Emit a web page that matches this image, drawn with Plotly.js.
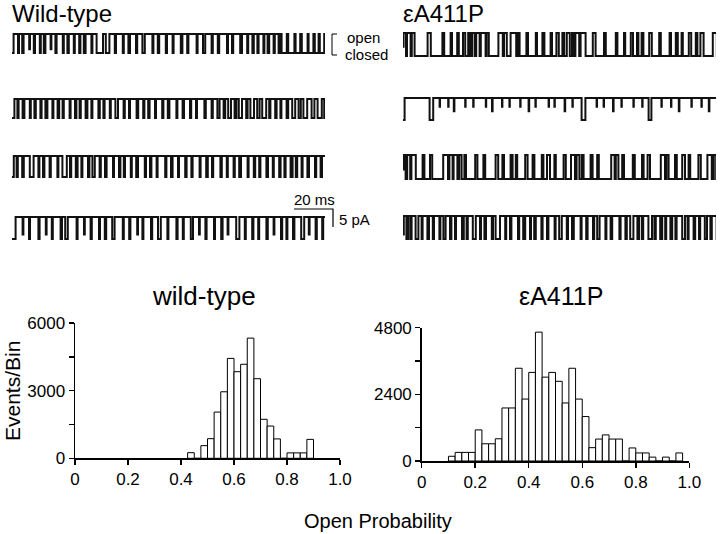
<!DOCTYPE html>
<html>
<head>
<meta charset="utf-8">
<script src="https://cdn.plot.ly/plotly-3.0.1.min.js"></script>
<style>
  html, body { margin: 0; padding: 0; background: #fff; }
  #chart { width: 720px; height: 534px; }
</style>
</head>
<body>
<div id="chart"></div>
<script>
// Single-channel records + open probability histograms

// Histogram bins (lower edge of each 0.025 bin) and counts
const wtBins = [0.425, 0.45, 0.475, 0.5, 0.525, 0.55, 0.575, 0.6, 0.625, 0.65,
                0.675, 0.7, 0.725, 0.75, 0.775, 0.8, 0.825, 0.85, 0.875];
const wtCounts = [250, 0, 560, 870, 2050, 2950, 4430, 3840, 4170, 5330,
                  3530, 1730, 1430, 860, 0, 240, 240, 240, 840];

const mutBins = [0.1, 0.125, 0.15, 0.175, 0.2, 0.225, 0.25, 0.275, 0.3, 0.325,
                 0.35, 0.375, 0.4, 0.425, 0.45, 0.475, 0.5, 0.525, 0.55, 0.575,
                 0.6, 0.625, 0.65, 0.675, 0.7, 0.725, 0.75, 0.775, 0.8, 0.825,
                 0.85, 0.875, 0.9, 0.925, 0.95];
const mutCounts = [170, 310, 310, 310, 1120, 620, 620, 800, 1910, 1910,
                   3340, 2230, 3190, 4640, 3020, 3190, 2870, 2090, 3340, 2230,
                   1600, 480, 790, 940, 790, 790, 0, 470, 290, 290,
                   140, 0, 140, 0, 290];

const xTickVals = [0, 0.2, 0.4, 0.6, 0.8, 1.0];
const xTickText = ['0', '0.2', '0.4', '0.6', '0.8', '1.0'];
const wtYTicks = [0, 1500, 3000, 4500, 6000];
const wtYText = ['0', '', '3000', '', '6000'];
const mutYTicks = [0, 1200, 2400, 3600, 4800];
const mutYText = ['0', '', '2400', '', '4800'];

// Dwell times (ms), alternating closed / open, starting with closed
const wt1 = [0.8, 2.2, 0.5, 1.6, 0.7, 2.8, 0.4, 1.9, 0.6, 2.4, 0.5, 1.5, 0.8, 2.6, 0.4, 2.0,
             0.6, 3.1, 0.5, 1.8, 0.7, 2.5, 0.5, 2.2, 0.6, 1.7, 0.9, 2.9, 0.5, 2.1, 3.2, 1.4,
             1.8, 2.7, 0.6, 3.4, 0.5, 2.3, 0.8, 3.0, 0.6, 2.6, 1.2, 3.8, 0.5, 2.2, 0.7, 3.3,
             0.6, 2.8, 0.5, 3.6, 0.8, 2.4, 0.6, 4.1, 0.5, 2.7, 1.1, 3.2, 0.6, 2.5, 0.7, 3.9,
             0.5, 2.0, 0.6, 3.5, 0.9, 2.6, 0.5, 2.1, 0.7, 1.8, 0.6, 2.4, 0.5, 1.6, 0.8, 2.2,
             0.6, 1.9, 1.0, 0.5, 2.6, 0.7, 3.1, 0.6, 2.3, 0.8, 2.9, 0.5, 2.4, 0.7, 1.9, 0.6,
             2.2, 0.9, 3.0];
const wt2 = [1.2, 1.5, 0.6, 2.0, 0.9, 2.7, 0.5, 1.8, 0.7, 2.3, 0.6, 1.9, 1.0, 2.5, 0.5, 2.1,
             0.8, 1.7, 0.6, 2.9, 0.5, 2.2, 0.7, 1.6, 0.6, 2.4, 0.9, 2.0, 0.5, 3.0, 0.7, 1.8,
             0.6, 2.6, 0.5, 2.3, 1.3, 2.8, 0.6, 2.1, 0.5, 3.3, 0.8, 2.5, 0.6, 1.9, 0.7, 2.7,
             0.5, 3.1, 0.6, 2.2, 0.8, 3.5, 0.5, 2.6, 0.7, 3.0, 0.6, 2.4, 0.5, 3.7, 0.7, 2.9,
             0.6, 2.3, 1.1, 2.0, 0.8, 1.5, 1.4, 1.8, 0.9, 1.2, 1.6, 2.1, 0.7, 1.4, 1.8, 1.6,
             1.2, 1.3, 2.0, 1.5, 0.6, 2.4, 0.7, 1.9, 0.5, 2.6, 0.8, 2.0, 1.5, 1.7, 1.1, 1.3,
             1.9, 2.2, 1.4, 1.6, 2.1, 1.2, 1.6, 1.4];
const wt3 = [0.9, 1.4, 0.6, 2.2, 0.8, 3.0, 1.9, 2.4, 0.5, 1.8, 0.7, 2.6, 0.6, 3.3, 0.5, 2.0,
             2.2, 1.6, 0.6, 2.3, 0.9, 1.9, 0.5, 2.8, 0.7, 1.5, 1.2, 2.4, 0.6, 2.1, 0.8, 3.2,
             0.5, 2.5, 0.7, 1.7, 0.6, 2.9, 0.5, 2.2, 0.9, 3.4, 0.6, 2.0, 0.7, 2.6, 0.5, 3.8,
             0.6, 2.3, 0.8, 2.7, 0.5, 3.1, 0.7, 2.4, 0.6, 3.5, 0.5, 2.8, 0.8, 2.1, 0.6, 3.6,
             0.7, 2.5, 0.5, 2.9, 0.6, 2.2, 0.9, 3.3, 0.5, 2.6, 0.7, 2.0, 0.6, 3.0, 0.8, 2.4,
             0.5, 2.7, 0.7, 1.9, 0.6, 2.5, 1.0, 1.6, 0.7, 2.2, 0.5, 2.4, 0.8, 3.0, 0.6, 2.2,
             0.7, 2.6, 1.1];
const wt4 = [1.8, 3.5, 0.4, 2.8, 0.5, 4.2, 0.6, 3.1, 0.4, 2.6, 0.5, 3.9, 0.7, 1.6, 1.3, 4.4,
             0.5, 3.2, 0.4, 2.9, 0.6, 3.6, 0.5, 2.4, 0.7, 3.0, 1.2, 4.1, 0.5, 2.7, 0.6, 3.4,
             0.4, 2.2, 0.5, 3.8, 0.6, 2.9, 1.4, 3.3, 0.5, 4.0, 0.6, 2.6, 0.5, 3.5, 1.1, 3.0,
             0.4, 2.8, 0.6, 3.7, 0.5, 3.1, 0.7, 2.5, 0.4, 3.9, 1.6, 2.7, 0.5, 3.2, 0.6, 2.4,
             0.5, 3.6, 0.7, 2.9, 0.4, 3.3, 0.6, 2.1, 0.5, 2.8, 0.7, 3.4, 1.5, 2.3, 0.4, 3.0,
             0.6, 2.7, 0.5, 1.9, 0.8, 1.5];
const mut1 = [0.3, 1.2, 0.5, 1.8, 0.6, 1.4, 6.5, 1.6, 5.8, 0.9, 3.2, 0.7, 2.6, 0.8, 2.1, 1.1,
              1.5, 0.9, 1.0, 1.3, 0.8, 1.7, 0.6, 2.4, 0.5, 1.1, 4.8, 2.2, 0.6, 1.4, 1.9, 2.8,
              0.7, 1.0, 3.4, 0.8, 3.9, 0.6, 2.7, 1.0, 3.1, 0.7, 2.2, 1.2, 1.8, 0.9, 1.3, 1.5,
              1.1, 0.8, 0.9, 1.9, 0.7, 2.5, 3.6, 1.4, 4.2, 0.9, 5.0, 0.8, 3.3, 0.6, 2.8, 1.1,
              2.0, 0.7, 1.6, 0.9, 2.9, 1.3, 3.7, 0.8, 4.4, 0.7, 2.4, 1.0, 1.9, 0.6, 3.0, 1.2,
              2.3, 0.8, 1.5, 1.6, 4.6, 2.0, 1.2, 1.6, 1.0];
const mut2 = [0.8, 12.5, 1.8, 3.2, 0.2, 4.1, 0.2, 2.6, 0.3, 5.4, 0.2, 3.8, 0.2, 6.1, 0.2, 2.9,
              0.3, 4.7, 0.2, 3.5, 0.2, 5.2, 0.2, 4.0, 0.3, 3.1, 0.2, 6.4, 0.2, 2.7, 0.2, 4.9,
              0.3, 3.6, 0.2, 4.4, 1.9, 5.6, 0.2, 3.3, 0.2, 4.5, 0.3, 3.9, 0.2, 5.8, 0.2, 4.2,
              0.2, 3.0, 1.4, 5.0, 0.2, 4.6, 0.2, 3.7, 0.3, 6.0, 0.2, 4.8, 0.2, 3.5, 0.3, 4.2];
const mut3 = [0.3, 1.0, 0.8, 1.5, 0.6, 2.2, 3.4, 0.9, 2.8, 1.1, 5.5, 2.4, 0.7, 1.6, 0.5, 1.9,
              0.9, 1.2, 1.4, 0.8, 4.6, 1.1, 3.0, 0.9, 5.2, 1.3, 2.1, 0.8, 3.3, 1.0, 1.6, 0.7,
              4.0, 1.2, 2.5, 0.9, 3.7, 0.8, 1.8, 1.5, 2.2, 0.7, 3.9, 1.1, 2.6, 2.0, 0.8, 1.4,
              1.2, 0.9, 3.5, 1.0, 2.3, 0.8, 6.2, 1.7, 0.6, 1.3, 1.9, 0.9, 4.4, 1.0, 3.6, 0.8,
              2.0, 1.2, 5.4, 2.1, 0.7, 1.1, 3.2, 0.9, 2.7, 1.4, 1.8, 0.8, 4.1, 1.2, 3.3, 2.2,
              1.0, 1.2, 1.8, 0.9];
const mut4 = [0.4, 1.3, 0.9, 1.1, 0.6, 2.0, 1.4, 1.6, 0.5, 2.4, 0.8, 1.9, 0.6, 2.7, 0.5, 1.5,
              1.1, 2.2, 0.7, 1.8, 0.5, 3.0, 0.9, 1.4, 0.6, 2.5, 1.5, 2.1, 0.5, 1.7, 0.8, 2.9,
              0.6, 1.3, 2.2, 2.6, 0.5, 1.9, 0.7, 3.3, 0.6, 2.0, 1.0, 2.4, 0.5, 1.6, 0.8, 2.8,
              0.6, 2.2, 0.7, 3.1, 0.5, 1.8, 1.3, 2.5, 0.6, 2.0, 0.9, 3.4, 0.5, 2.3, 0.7, 2.7,
              0.6, 1.5, 1.2, 2.9, 0.5, 2.1, 0.8, 3.6, 0.6, 2.4, 0.7, 1.7, 1.6, 2.0, 0.9, 1.4,
              0.6, 2.6, 1.8, 1.2, 0.7, 2.2, 1.0, 1.5, 0.5, 2.1, 0.9, 1.6, 0.6, 2.8, 1.4, 1.3,
              0.5, 2.5, 0.8, 1.9, 0.6, 2.3, 1.1, 1.7, 0.7, 2.4, 0.6, 1.8];

const W = 720, H = 534;
const px = p => p / W;
const py = p => 1 - p / H;
const FONT = 'Liberation Sans, Arial, Helvetica, sans-serif';
const SWEEP_MS = 156.5;

// trace rows: [dwells, left px, right px, open level px, closed level px]
const rows = [
    [wt1, 12, 325, 34, 53],
    [wt2, 12, 325, 99, 118],
    [wt3, 12, 325, 156, 177],
    [wt4, 12, 325, 217, 239],
    [mut1, 403, 716, 33, 56],
    [mut2, 403, 716, 98, 120],
    [mut3, 403, 716, 155, 179],
    [mut4, 403, 716, 216, 239]
];

// step record from dwell list; brief events don't reach full amplitude (filtering)
function stepRecord(dwells) {
    const xs = [], ys = [];
    let t = 0;
    dwells.forEach((d, i) => {
        const isOpen = i % 2 === 1;
        const target = isOpen ? 1 : 0;
        const from = 1 - target;
        const lvl = from + (target - from) * Math.min(1, d / 0.5);
        xs.push(t);
        ys.push(lvl);
        t += d;
    });
    xs.push(t);
    ys.push(ys[ys.length - 1]);
    return { xs, ys };
}

const data = [];
const layout = {
    width: W,
    height: H,
    margin: { t: 0, b: 0, l: 0, r: 0 },
    paper_bgcolor: '#fff',
    plot_bgcolor: 'rgba(0,0,0,0)',
    showlegend: false,
    font: { family: FONT, color: '#000', size: 17 },
    annotations: [],
    shapes: []
};

// histograms
function histAxes(n, xdom, ydom, yrange, yvals, ytext) {
    const suffix = n === 1 ? '' : String(n);
    layout['xaxis' + suffix] = {
        domain: xdom, range: [0, 1], anchor: 'y' + suffix,
        showline: true, linecolor: '#000', linewidth: 1.5,
        ticks: 'outside', ticklen: 5, tickwidth: 1.5, tickcolor: '#000',
        tickvals: xTickVals, ticktext: xTickText,
        tickfont: { size: 17 }, showgrid: false, zeroline: false, fixedrange: true
    };
    layout['yaxis' + suffix] = {
        domain: ydom, range: yrange, anchor: 'x' + suffix,
        showline: true, linecolor: '#000', linewidth: 1.5,
        ticks: 'outside', ticklen: 5, tickwidth: 1.5, tickcolor: '#000',
        tickvals: yvals, ticktext: ytext,
        tickfont: { size: 17 }, showgrid: false, zeroline: false, fixedrange: true
    };
}

histAxes(1, [px(75), px(340)], [py(458.3), py(323)], [0, 6000], wtYTicks, wtYText);
histAxes(2, [px(421.7), px(689.3)], [py(461), py(327.7)], [0, 4800], mutYTicks, mutYText);

[[wtBins, wtCounts, 'x', 'y'], [mutBins, mutCounts, 'x2', 'y2']].forEach(([bins, counts, xa, ya]) => {
    data.push({
        type: 'bar',
        x: bins.map(b => b + 0.0125),
        y: counts,
        width: 0.025,
        xaxis: xa, yaxis: ya,
        marker: { color: '#fff', line: { color: '#000', width: 1 } },
        hoverinfo: 'x+y'
    });
});

// current records
rows.forEach((r, i) => {
    const [dwells, left, right, yOpen, yClosed] = r;
    const n = i + 3;
    const amp = yClosed - yOpen;
    const rec = stepRecord(dwells);
    layout['xaxis' + n] = {
        domain: [px(left), px(right)], range: [0, SWEEP_MS],
        visible: false, anchor: 'y' + n, fixedrange: true
    };
    layout['yaxis' + n] = {
        domain: [py(yClosed + 0.25 * amp), py(yOpen - 0.25 * amp)], range: [-0.25, 1.25],
        visible: false, anchor: 'x' + n, fixedrange: true
    };
    data.push({
        type: 'scatter', mode: 'lines',
        x: rec.xs, y: rec.ys,
        xaxis: 'x' + n, yaxis: 'y' + n,
        line: { color: '#111', width: 2, shape: 'hv' },
        hoverinfo: 'skip'
    });
});

function addText(text, x, y, size, opts) {
    layout.annotations.push(Object.assign({
        text: text, xref: 'paper', yref: 'paper',
        x: px(x), y: py(y), showarrow: false,
        xanchor: 'left', yanchor: 'middle',
        font: { family: FONT, size: size, color: '#000' }
    }, opts || {}));
}

addText('Wild-type', 10, 14, 24);
addText('εA411P', 401, 14, 24);
addText('open', 345, 38, 15);
addText('closed', 343, 54, 15);
addText('20 ms', 314, 199, 15, { xanchor: 'center' });
addText('5 pA', 337, 219, 15);
addText('wild-type', 204, 296, 26, { xanchor: 'center' });
addText('εA411P', 561, 296, 25, { xanchor: 'center' });
addText('Events/Bin', 12, 391, 21, { xanchor: 'center', textangle: -90 });
addText('Open Probability', 378, 521, 20, { xanchor: 'center' });

// open/closed bracket and scale bar
layout.shapes = [
    {
        type: 'path', xref: 'paper', yref: 'paper',
        path: `M ${px(337)},${py(34)} L ${px(332)},${py(34)} L ${px(332)},${py(55)} L ${px(337)},${py(55)}`,
        line: { color: '#000', width: 1 }
    },
    {
        type: 'path', xref: 'paper', yref: 'paper',
        path: `M ${px(294)},${py(209)} L ${px(333)},${py(209)} L ${px(333)},${py(227)}`,
        line: { color: '#000', width: 1.2 }
    }
];

Plotly.newPlot('chart', data, layout, { displayModeBar: false, staticPlot: true });
</script>
</body>
</html>
